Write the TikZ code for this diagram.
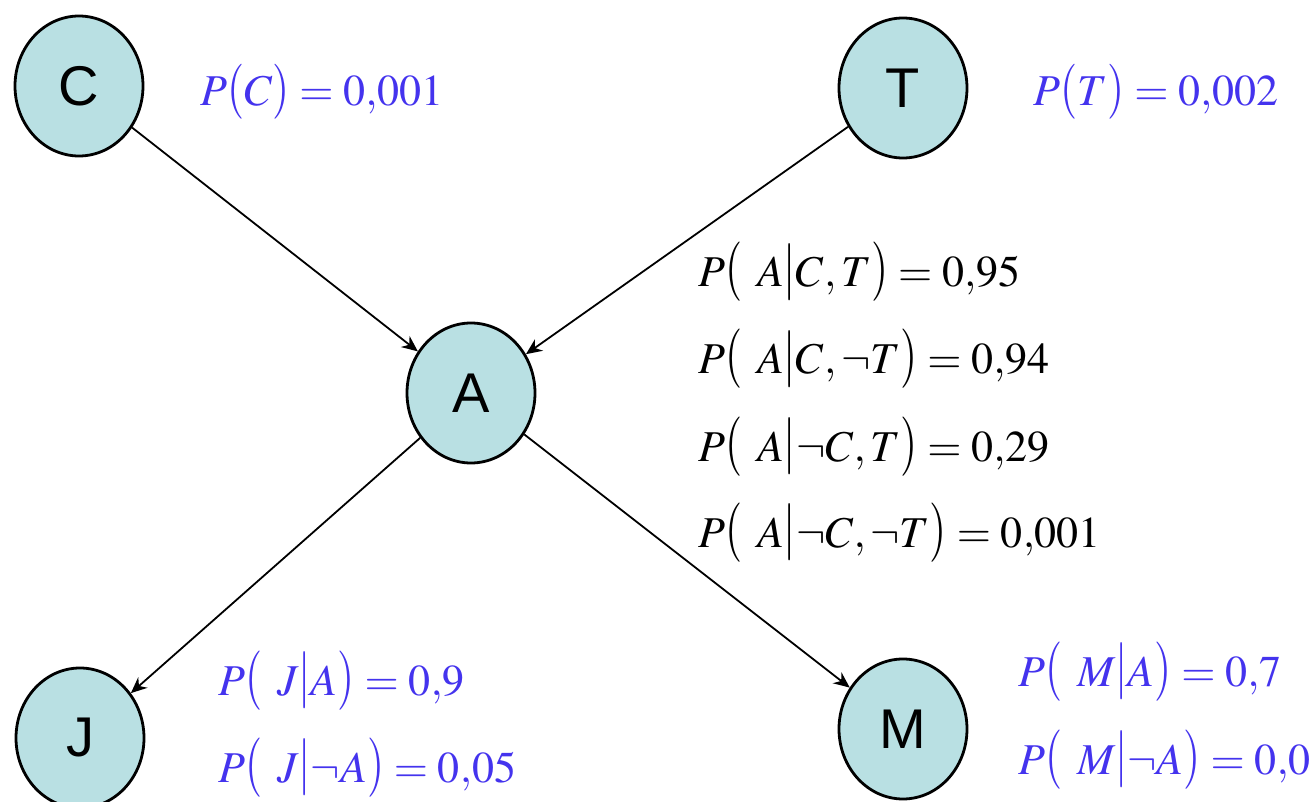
\documentclass[tikz,border=0pt]{standalone}
\usepackage{mathptmx}
\usepackage[no-math]{fontspec}
\usepackage{graphicx}
\newfontfamily\labelfont{Liberation Sans}
\usepackage{tikz}
\usetikzlibrary{arrows.meta,shapes.geometric,positioning}
\definecolor{nodefill}{RGB}{185,224,227}
\definecolor{probblue}{RGB}{68,51,238}
\setlength{\nulldelimiterspace}{0pt}
\newcommand{\delimrule}{\rule[-6.5pt]{0pt}{24pt}}
\newcommand{\lpar}{\mathopen{\scalebox{1}[1.35]{$\left(\delimrule\right.$}}}
\newcommand{\rpar}{\mathclose{\scalebox{1}[1.35]{$\left.\delimrule\right)$}}}
\newcommand{\cbar}{\mathord{\scalebox{1}[1.3]{$\left|\delimrule\right.$}}}
\newcommand{\slpar}{\mathopen{\scalebox{1}[1.25]{$($}}}
\newcommand{\srpar}{\mathclose{\scalebox{1}[1.25]{$)$}}}
\newcommand{\condP}[2]{P\lpar\mkern6mu#1\cbar#2\rpar}

\begin{document}
\begin{tikzpicture}[
    >=Stealth,
    x=0.5pt,
    y=-0.5pt,
    bnode/.style={ellipse, draw, line width=1.4pt, fill=nodefill, minimum width=64pt, minimum height=70pt, inner sep=0pt, font=\labelfont\fontsize{28}{30}\selectfont},
    link/.style={-{Stealth[length=8pt, width=7pt]}, line width=0.9pt},
    prob/.style={font=\fontsize{22}{26}\selectfont, inner sep=0pt, anchor=base west},
    prior/.style={prob, text=probblue}
  ]
  \path[fill=white] (0,0) rectangle (1313,802);
  \useasboundingbox (0,0) rectangle (1313,802);

  % network
  \node[bnode] (C) at (79,86) {C};
  \node[bnode] (T) at (903,88) {T};
  \node[bnode] (A) at (471,393) {A};
  \node[bnode] (J) at (80,738) {J};
  \node[bnode] (M) at (903,729) {M};

  \draw[link] (C) -- (A);
  \draw[link] (T) -- (A);
  \draw[link] (A) -- (J);
  \draw[link] (A) -- (M);

  % probability tables (base lines)
  \node[prior] (pc) at (200,106) {$P\slpar C\srpar=0{,}001$};
  \node[prior] (pt) at (1033,106) {$P\slpar T\srpar=0{,}002$};

  \node[prob] (pa1) at (698,287) {$\condP{A}{C,T}=0{,}95$};
  \node[prob] (pa2) at (698,374) {$\condP{A}{C,\neg T}=0{,}94$};
  \node[prob] (pa3) at (698,461) {$\condP{A}{\neg C,T}=0{,}29$};
  \node[prob] (pa4) at (698,547) {$\condP{A}{\neg C,\neg T}=0{,}001$};

  \node[prior] (pj1) at (218,695) {$\condP{J}{A}=0{,}9$};
  \node[prior] (pj2) at (218,782) {$\condP{J}{\neg A}=0{,}05$};

  \node[prior] (pm1) at (1018,686) {$\condP{M}{A}=0{,}7$};
  \node[prior] (pm2) at (1018,774) {$\condP{M}{\neg A}=0{,}0$};
\end{tikzpicture}
\end{document}
